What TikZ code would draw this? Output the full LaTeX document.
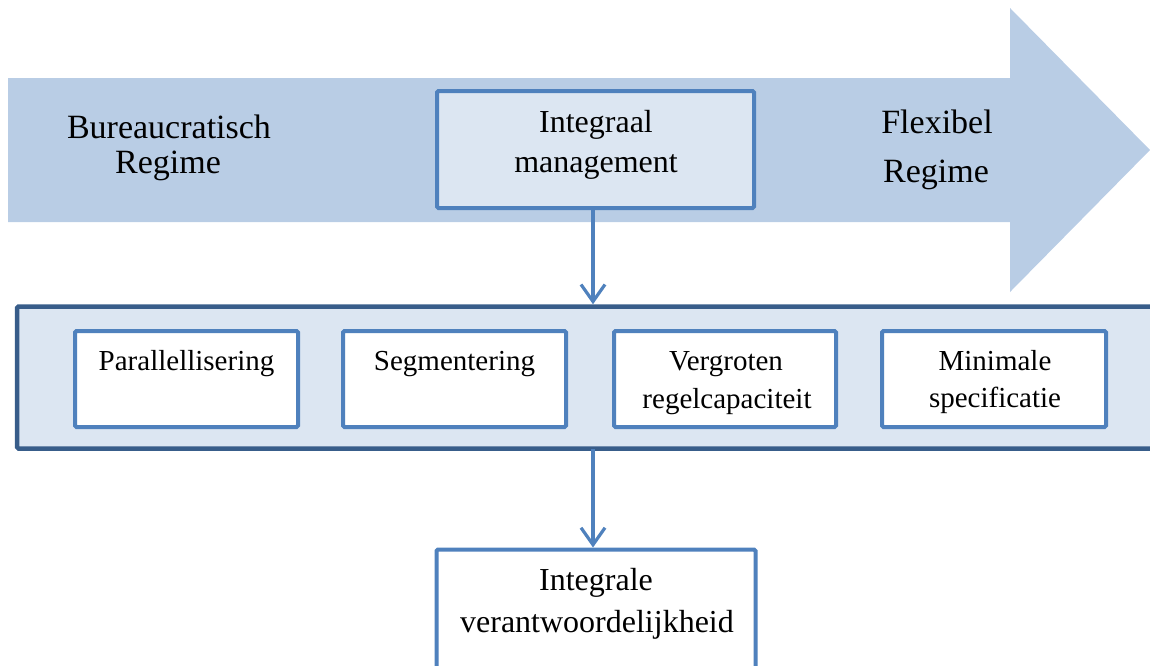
\documentclass[tikz,border=0pt]{standalone}
\usepackage{fontspec}
\setmainfont{Liberation Serif}
\usetikzlibrary{arrows.meta}
\definecolor{shaftblue}{HTML}{B9CDE5}
\definecolor{paleblue}{HTML}{DCE6F2}
\definecolor{edgeblue}{HTML}{4F81BD}
\definecolor{darkedge}{HTML}{385D8A}
\begin{document}
\begin{tikzpicture}[x=1pt,y=-1pt,
  box/.style={draw=edgeblue, line width=4pt, rounded corners=1.5pt, inner sep=0pt},
  panel/.style={draw=darkedge, fill=paleblue, line width=4.5pt, rounded corners=1.5pt, inner sep=0pt},
  conn/.style={draw=edgeblue, line width=3.2pt, -{Straight Barb[length=17pt,width=24pt,line width=3.2pt]}},
  big/.style={anchor=base, font=\fontsize{34}{36}\selectfont},
  mid/.style={anchor=base, font=\fontsize{32}{34}\selectfont},
  small/.style={anchor=base, font=\fontsize{29}{31}\selectfont}]
\useasboundingbox (0,0) rectangle (1150,665);
\clip (0,0) rectangle (1150,665);

% broad arrow from bureaucratic to flexible regime
\fill[shaftblue] (8,78) -- (1010,78) -- (1010,8) -- (1150,150)
  -- (1010,292) -- (1010,222) -- (8,222) -- cycle;

\node[big] (bur1) at (169,138) {Bureaucratisch};
\node[big] (bur2) at (168,173) {Regime};
\node[big] (flex1) at (937,133) {Flexibel};
\node[big] (flex2) at (936,182) {Regime};

% integral management box
\node[box, fill=paleblue, minimum width=317, minimum height=117] (im) at (595.5,149.5) {};
\node[mid] (im1) at (596,132) {Integraal};
\node[mid] (im2) at (596,172) {management};

% panel with the four measures
\node[panel, minimum width=1160, minimum height=142] (cont) at (597,377.5) {};
\node[box, fill=white, minimum width=223, minimum height=96] (m1) at (186.5,379) {};
\node[box, fill=white, minimum width=223, minimum height=96] (m2) at (454.5,379) {};
\node[box, fill=white, minimum width=222, minimum height=96] (m3) at (725,379) {};
\node[box, fill=white, minimum width=224, minimum height=96] (m4) at (994,379) {};
\node[small] (t1) at (186.5,370) {Parallellisering};
\node[small] (t2) at (454.5,370) {Segmentering};
\node[small] (t3a) at (726,370) {Vergroten};
\node[small] (t3b) at (727,408) {regelcapaciteit};
\node[small] (t4a) at (995,370) {Minimale};
\node[small] (t4b) at (995,407) {specificatie};

% integral responsibility box
\node[box, fill=white, minimum width=319, minimum height=150] (ir) at (596,624.5) {};
\node[mid] (ir1) at (596,590) {Integrale};
\node[mid] (ir2) at (597,632) {verantwoordelijkheid};

% connectors
\coordinate (a1) at (593,208);
\coordinate (a2) at (593,449);
\draw[conn] (a1) -- (a1 |- cont.north);
\draw[conn] (a2) -- (a2 |- ir.north);
\end{tikzpicture}
\end{document}
